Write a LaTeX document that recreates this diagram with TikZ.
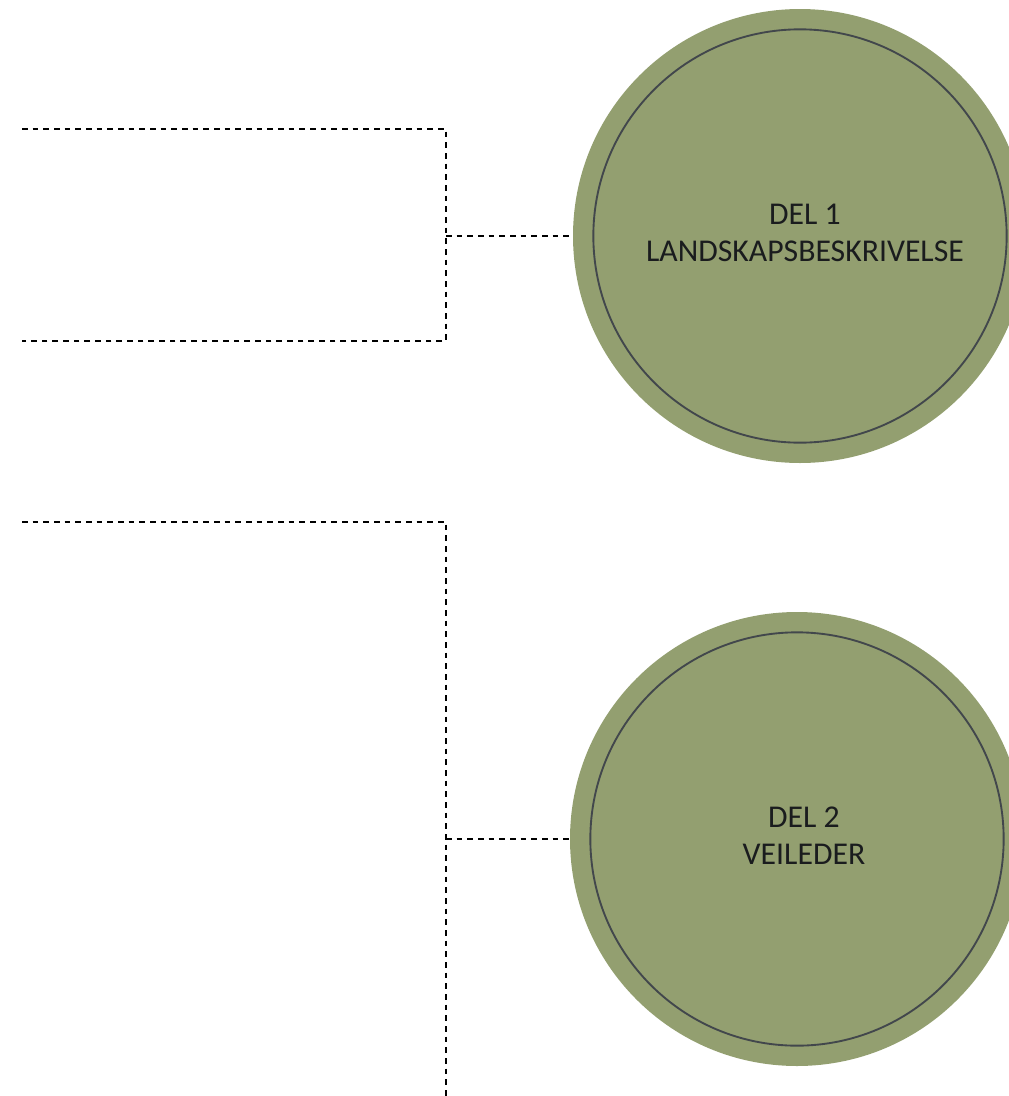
\documentclass[tikz,border=0pt]{standalone}
\usepackage{fontspec}
\setmainfont{Carlito}
\usepackage{tikz}
\usetikzlibrary{positioning}
\definecolor{delgreen}{HTML}{939F70}
\definecolor{ringgray}{HTML}{42474C}
\definecolor{deltext}{HTML}{1A1C1E}

\begin{document}
\begin{tikzpicture}[x=0.75pt,y=-0.75pt,ring/.style={circle,fill=delgreen,minimum size=340.5pt,inner sep=0pt},inner/.style={circle,draw=ringgray,line width=1.4pt,minimum size=310pt,inner sep=0pt},lab/.style={align=center,inner sep=0pt,text=deltext,font=\fontsize{23.8}{27.75}\selectfont},link/.style={draw=black,line width=0.8pt,dash pattern=on 4.2pt off 3.8pt}]
  \useasboundingbox (0,0) rectangle (1008,1096);

  \node[ring] (r1) at (800,236) {};
  \node[inner] (c1) at (r1.center) {};
  \node[lab] (d1) at (805,233) {DEL 1\\LANDSKAPSBESKRIVELSE};
  \node[ring] (r2) at (797,839) {};
  \node[inner] (c2) at (r2.center) {};
  \node[lab] (d2) at (804,836) {DEL 2\\VEILEDER};

  \coordinate (t1) at (22,129);
  \coordinate (t2) at (446,129);
  \coordinate (t3) at (446,341);
  \coordinate (t4) at (22,341);
  \coordinate (j1) at (446,236);

  \coordinate (b1) at (22,522);
  \coordinate (b2) at (446,522);
  \coordinate (b3) at (446,1096);
  \coordinate (j2) at (446,839);

  \draw[link] (t1) -- (t2) -- (t3) -- (t4);
  \draw[link] (j1) -- (r1.west);
  \draw[link] (b1) -- (b2) -- (b3);
  \draw[link] (j2) -- (r2.west);
\end{tikzpicture}
\end{document}
